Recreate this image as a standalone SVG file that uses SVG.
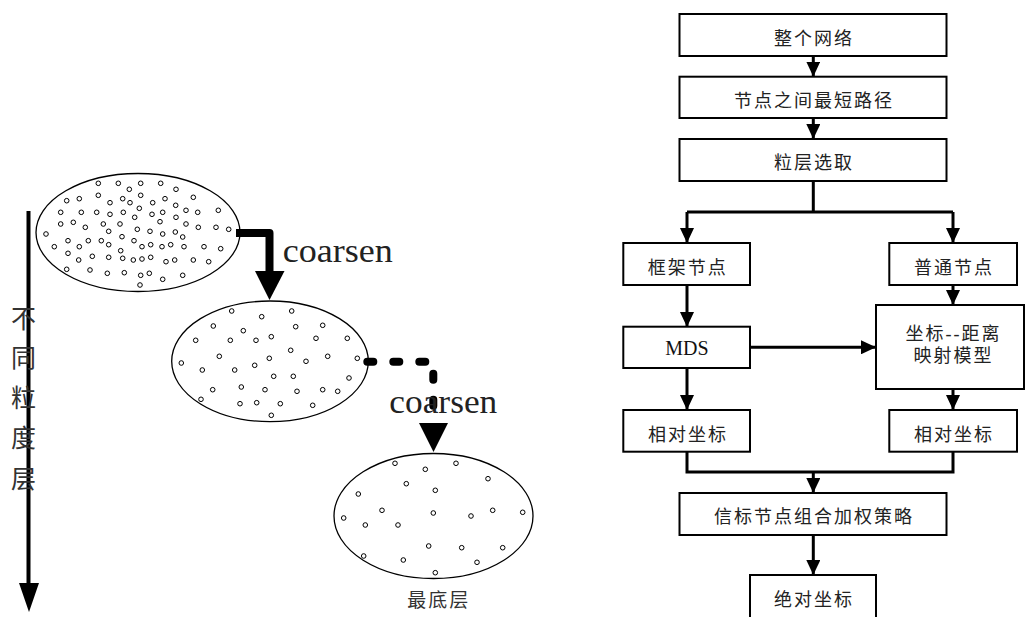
<svg xmlns="http://www.w3.org/2000/svg" width="1025" height="617" viewBox="0 0 1025 617">
<style>
.box{fill:#fff;stroke:#000;stroke-width:2}
.cn{font-family:"Liberation Serif","Noto Sans CJK SC",serif;font-size:18px;letter-spacing:2px;fill:#222;text-anchor:middle}
.en{font-family:"Liberation Serif",serif;font-size:20px;fill:#111;text-anchor:middle}
.fl{fill:none;stroke:#000;stroke-width:3}
.ell{fill:#fff;stroke:#000;stroke-width:1.3}
.dot{fill:#fff;stroke:#000;stroke-width:1}
.co{font-family:"Liberation Serif",serif;font-size:33px;fill:#222}
.vt{font-family:"Noto Sans CJK SC",sans-serif;font-size:25px;fill:#333;text-anchor:middle}
</style>
<defs>
<marker id="ah" markerUnits="userSpaceOnUse" markerWidth="15" markerHeight="14" refX="15" refY="7" orient="auto">
<path d="M0,0 L15,7 L0,14 z" fill="#000"/>
</marker>
<circle id="d" r="2.3" class="dot"/>
</defs>

<!-- Left: granularity layers -->
<g id="layer1">
<ellipse class="ell" cx="138" cy="232.5" rx="102" ry="59"/>
<g>
<use href="#d" x="98.3" y="183.3"/><use href="#d" x="118.3" y="183.3"/><use href="#d" x="129.3" y="189.3"/><use href="#d" x="140.7" y="183.3"/><use href="#d" x="160.7" y="183.3"/><use href="#d" x="176" y="189.3"/>
<use href="#d" x="66.7" y="200.7"/><use href="#d" x="79.3" y="198.7"/><use href="#d" x="98.3" y="195.3"/><use href="#d" x="110" y="202.7"/><use href="#d" x="122.7" y="198.7"/><use href="#d" x="130" y="202.7"/><use href="#d" x="140.7" y="195.3"/><use href="#d" x="152.7" y="202.7"/><use href="#d" x="165" y="198.7"/><use href="#d" x="175.7" y="205.3"/><use href="#d" x="193.3" y="197.3"/>
<use href="#d" x="60.7" y="212.3"/><use href="#d" x="81.3" y="212.3"/><use href="#d" x="96.7" y="212.3"/><use href="#d" x="110" y="214.3"/><use href="#d" x="123.3" y="212.3"/><use href="#d" x="134.7" y="217.3"/><use href="#d" x="139.3" y="208.3"/><use href="#d" x="152" y="214.3"/><use href="#d" x="162.7" y="212.3"/><use href="#d" x="176" y="217.3"/><use href="#d" x="186" y="210.3"/><use href="#d" x="197.7" y="212.3"/><use href="#d" x="218.3" y="210.3"/>
<use href="#d" x="60.7" y="224"/><use href="#d" x="73.3" y="222.3"/><use href="#d" x="85.3" y="227.3"/><use href="#d" x="103.3" y="224"/><use href="#d" x="108.7" y="231.3"/><use href="#d" x="120" y="224"/><use href="#d" x="137.3" y="229.3"/><use href="#d" x="150" y="231.3"/><use href="#d" x="160" y="221.7"/><use href="#d" x="162.7" y="234"/><use href="#d" x="175.3" y="232"/><use href="#d" x="182.7" y="237"/><use href="#d" x="186" y="224"/><use href="#d" x="198.3" y="227.3"/><use href="#d" x="216" y="227.3"/><use href="#d" x="228.7" y="229.3"/>
<use href="#d" x="46" y="234"/><use href="#d" x="54.3" y="246.7"/><use href="#d" x="68" y="240.7"/><use href="#d" x="79.3" y="246.7"/><use href="#d" x="88.3" y="240.7"/><use href="#d" x="101.3" y="240.7"/><use href="#d" x="108.7" y="244.7"/><use href="#d" x="122" y="236.7"/><use href="#d" x="134" y="240.7"/><use href="#d" x="142" y="246.7"/><use href="#d" x="150.7" y="244.7"/><use href="#d" x="162" y="246.7"/><use href="#d" x="170.7" y="244.7"/><use href="#d" x="184" y="246.7"/><use href="#d" x="204" y="246.7"/><use href="#d" x="220.7" y="248.7"/>
<use href="#d" x="68" y="253.3"/><use href="#d" x="78.7" y="260"/><use href="#d" x="92.3" y="256.3"/><use href="#d" x="108.7" y="257.3"/><use href="#d" x="120.7" y="250.7"/><use href="#d" x="122.7" y="258.3"/><use href="#d" x="133.3" y="260"/><use href="#d" x="142" y="259"/><use href="#d" x="150.7" y="257.3"/><use href="#d" x="166" y="261.7"/><use href="#d" x="174.7" y="260"/><use href="#d" x="193.3" y="260"/><use href="#d" x="208.7" y="261.7"/>
<use href="#d" x="66.7" y="269.3"/><use href="#d" x="90" y="270"/><use href="#d" x="107.3" y="273.3"/><use href="#d" x="124.3" y="272.7"/><use href="#d" x="140.7" y="275.3"/><use href="#d" x="149.3" y="273.3"/><use href="#d" x="162.7" y="279.3"/><use href="#d" x="182.7" y="275.3"/><use href="#d" x="140" y="285"/>
</g>
</g>

<g id="layer2">
<ellipse class="ell" cx="270" cy="361.3" rx="98.3" ry="60.3"/>
<g>
<use href="#d" x="231.7" y="311"/><use href="#d" x="261.7" y="316.7"/><use href="#d" x="291.7" y="311"/><use href="#d" x="213.3" y="326"/><use href="#d" x="243.3" y="330.7"/><use href="#d" x="295.7" y="326.7"/><use href="#d" x="322.7" y="325.3"/>
<use href="#d" x="195.7" y="340.3"/><use href="#d" x="230.3" y="340.3"/><use href="#d" x="256" y="340.3"/><use href="#d" x="271.3" y="336.7"/><use href="#d" x="316" y="338.3"/><use href="#d" x="347.3" y="338.3"/>
<use href="#d" x="219.3" y="356.3"/><use href="#d" x="290.7" y="350.3"/><use href="#d" x="269.3" y="358.3"/><use href="#d" x="306" y="361.3"/><use href="#d" x="327.7" y="356.3"/><use href="#d" x="357.3" y="358.3"/>
<use href="#d" x="181.3" y="363"/><use href="#d" x="202.3" y="370"/><use href="#d" x="234.7" y="370"/><use href="#d" x="254.7" y="365.3"/><use href="#d" x="273.7" y="376.3"/><use href="#d" x="293.3" y="376.3"/><use href="#d" x="349" y="378"/>
<use href="#d" x="212.7" y="389.7"/><use href="#d" x="241.3" y="387"/><use href="#d" x="265" y="389.7"/><use href="#d" x="297" y="391.3"/><use href="#d" x="322.7" y="389.7"/><use href="#d" x="337.7" y="391.3"/>
<use href="#d" x="201" y="399.3"/><use href="#d" x="240" y="403.7"/><use href="#d" x="256.7" y="402.7"/><use href="#d" x="280.3" y="403.7"/><use href="#d" x="312.7" y="405.3"/><use href="#d" x="271.3" y="415.3"/>
</g>
</g>

<g id="layer3">
<ellipse class="ell" cx="433.5" cy="516" rx="99.5" ry="62.5"/>
<g>
<use href="#d" x="395" y="463.3"/><use href="#d" x="425.3" y="469.3"/><use href="#d" x="456" y="463.3"/><use href="#d" x="488" y="478.7"/><use href="#d" x="406.3" y="483.7"/><use href="#d" x="435.3" y="490.3"/><use href="#d" x="358.3" y="494"/>
<use href="#d" x="382" y="510.3"/><use href="#d" x="433.3" y="513"/><use href="#d" x="471" y="516"/><use href="#d" x="492.7" y="510.3"/><use href="#d" x="522.7" y="512.3"/><use href="#d" x="343.7" y="518"/><use href="#d" x="365.3" y="525"/><use href="#d" x="398" y="525"/>
<use href="#d" x="428.7" y="546"/><use href="#d" x="461.7" y="547.7"/><use href="#d" x="502.7" y="547.7"/><use href="#d" x="363.7" y="556"/><use href="#d" x="403.3" y="560"/><use href="#d" x="477" y="562.3"/><use href="#d" x="435.3" y="572.7"/>
</g>
<text x="438.7" y="607" style="font-family:'Noto Sans CJK SC',sans-serif;font-size:19px;letter-spacing:2px;fill:#333;text-anchor:middle">最底层</text>
</g>

<g id="left-connectors">
<path d="M236 233 H269.5 V274" fill="none" stroke="#000" stroke-width="8" stroke-linejoin="round"/>
<polygon points="255,271 284.5,271 269.5,300" fill="#000"/>
<path d="M367.3 361.7 H433.3 V424" fill="none" stroke="#000" stroke-width="8" stroke-linecap="round" stroke-dasharray="6 20"/>
<polygon points="419,423 448,423 433.5,452" fill="#000"/>
<line x1="28.5" y1="211" x2="28.5" y2="586" stroke="#000" stroke-width="4"/>
<polygon points="19,583 39,583 29,612" fill="#000"/>
</g>

<g id="left-labels">
<text class="co" x="282.7" y="262.3" textLength="110" lengthAdjust="spacingAndGlyphs">coarsen</text>
<text class="co" x="389.3" y="412.7" textLength="108" lengthAdjust="spacingAndGlyphs">coarsen</text>
<text class="vt"><tspan x="23.5" y="328">不</tspan><tspan x="23.5" y="367">同</tspan><tspan x="23.5" y="407">粒</tspan><tspan x="23.5" y="447">度</tspan><tspan x="23.5" y="488">层</tspan></text>
</g>

<!-- Right: flowchart -->
<g id="connectors">
<line class="fl" x1="813.3" y1="56" x2="813.3" y2="76.7" marker-end="url(#ah)"/>
<line class="fl" x1="813.3" y1="118" x2="813.3" y2="139" marker-end="url(#ah)"/>
<line class="fl" x1="813.3" y1="181" x2="813.3" y2="212"/>
<path class="fl" d="M687 212 H953"/>
<line class="fl" x1="687" y1="212" x2="687" y2="243" marker-end="url(#ah)"/>
<line class="fl" x1="953" y1="212" x2="953" y2="243" marker-end="url(#ah)"/>
<line class="fl" x1="687" y1="285" x2="687" y2="327" marker-end="url(#ah)"/>
<line class="fl" x1="953" y1="285" x2="953" y2="305" marker-end="url(#ah)"/>
<line class="fl" x1="750" y1="347.3" x2="876" y2="347.3" marker-end="url(#ah)"/>
<line class="fl" x1="687" y1="368" x2="687" y2="410" marker-end="url(#ah)"/>
<line class="fl" x1="953" y1="389" x2="953" y2="410" marker-end="url(#ah)"/>
<path class="fl" d="M687 452 V472 H953 V452"/>
<line class="fl" x1="813.3" y1="472" x2="813.3" y2="493" marker-end="url(#ah)"/>
<line class="fl" x1="813.3" y1="535" x2="813.3" y2="575" marker-end="url(#ah)"/>
</g>

<g id="n-whole"><rect class="box" x="679.5" y="14" width="267" height="42"/><text class="cn" x="814" y="44.5">整个网络</text></g>
<g id="n-shortest"><rect class="box" x="679.5" y="76.7" width="267" height="41.3"/><text class="cn" x="814" y="107">节点之间最短路径</text></g>
<g id="n-granule"><rect class="box" x="679.5" y="139" width="267" height="42"/><text class="cn" x="814" y="169">粒层选取</text></g>
<g id="n-frame"><rect class="box" x="623.3" y="243" width="126.7" height="42"/><text class="cn" x="687.7" y="274">框架节点</text></g>
<g id="n-normal"><rect class="box" x="889.3" y="243" width="127.7" height="42"/><text class="cn" x="954" y="274">普通节点</text></g>
<g id="n-mds"><rect class="box" x="623.3" y="326.7" width="126.7" height="41.3"/><text class="en" x="687" y="355">MDS</text></g>
<g id="n-model"><rect class="box" x="876" y="305" width="148" height="84"/><text class="cn" x="953.5" y="339.5">坐标--距离</text><text class="cn" x="953.5" y="362">映射模型</text></g>
<g id="n-rel-left"><rect class="box" x="623.3" y="410" width="126.7" height="41.7"/><text class="cn" x="688" y="441">相对坐标</text></g>
<g id="n-rel-right"><rect class="box" x="889.3" y="410" width="127.7" height="41.7"/><text class="cn" x="954" y="441">相对坐标</text></g>
<g id="n-weight"><rect class="box" x="679.5" y="493" width="267" height="42"/><text class="cn" x="814" y="522.5">信标节点组合加权策略</text></g>
<g id="n-abs"><rect class="box" x="750" y="575" width="126" height="44"/><text class="cn" x="814" y="606">绝对坐标</text></g>
</svg>
